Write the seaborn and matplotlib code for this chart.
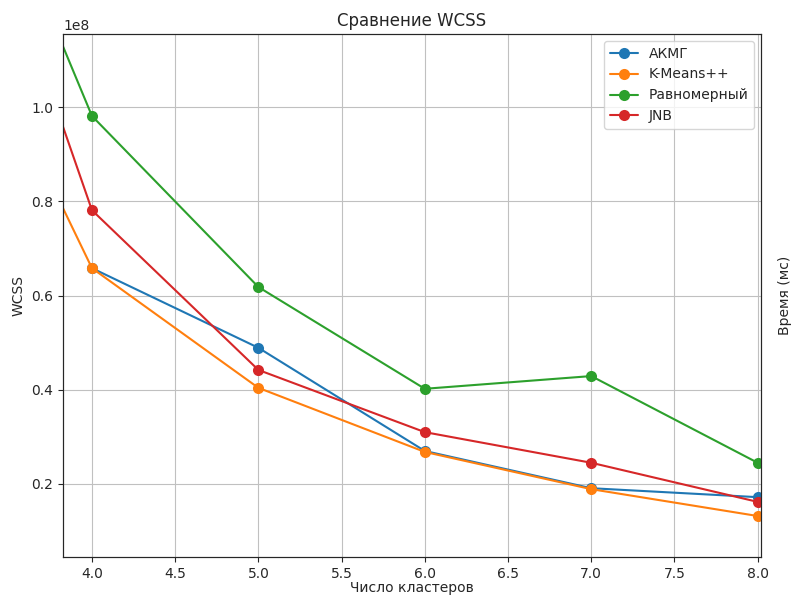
import numpy as np
import pandas as pd
import matplotlib
matplotlib.use("Agg")
import matplotlib.pyplot as plt
import seaborn as sns

clusters = [3, 4, 5, 6, 7, 8]
akmg = [np.nan, 0.658e8, 0.489e8, 0.270e8, 0.191e8, 0.172e8]
kmeanspp = [1.39e8, 0.658e8, 0.404e8, 0.268e8, 0.189e8, 0.132e8]
uniform = [1.83e8, 0.981e8, 0.618e8, 0.402e8, 0.429e8, 0.245e8]
jnb = [1.80e8, 0.781e8, 0.442e8, 0.310e8, 0.245e8, 0.162e8]
series_names = ["АКМГ", "K-Means++", "Равномерный", "JNB"]
colors = ["#1f77b4", "#ff7f0e", "#2ca02c", "#d62728"]

rows = []
for name, vals in zip(series_names, [akmg, kmeanspp, uniform, jnb]):
    for x, v in zip(clusters, vals):
        rows.append({"k": x, "wcss": v, "method": name})
df = pd.DataFrame(rows).dropna()

sns.set_style("ticks")
plt.rcParams["font.family"] = ["DejaVu Sans"]

fig = plt.figure(figsize=(7.92, 5.98), dpi=100)
ax = fig.add_axes([63 / 792, 1 - 557 / 598, (761 - 63) / 792, (557 - 34) / 598])

sns.lineplot(data=df, x="k", y="wcss", hue="method", hue_order=series_names,
             palette=colors, marker="o", markersize=8, markeredgewidth=0,
             linewidth=1.5, ax=ax, sort=True)

ax.set_xlim(3.826, 8.02)
ax.set_ylim(0.045e8, 1.155e8)
ax.set_yticks([0.2e8, 0.4e8, 0.6e8, 0.8e8, 1.0e8])
ax.grid(True, color="#c0c0c0", linewidth=0.8)
ax.set_axisbelow(True)
ax.set_xlabel("Число кластеров", fontsize=10, labelpad=0)
ax.set_ylabel("WCSS", fontsize=10)
ax.set_title("Сравнение WCSS", fontsize=12)
for s in ax.spines.values():
    s.set_visible(True)
    s.set_color("#333333")
ax.tick_params(labelsize=10)

handles, labels = ax.get_legend_handles_labels()
ax.legend(handles, labels, loc="upper right", fontsize=10, frameon=True)

ax2 = ax.twinx()
ax2.set_yticks([])
ax2.set_ylabel("Время (мс)", fontsize=10, labelpad=12)

fig.savefig("out.png", dpi=100)
